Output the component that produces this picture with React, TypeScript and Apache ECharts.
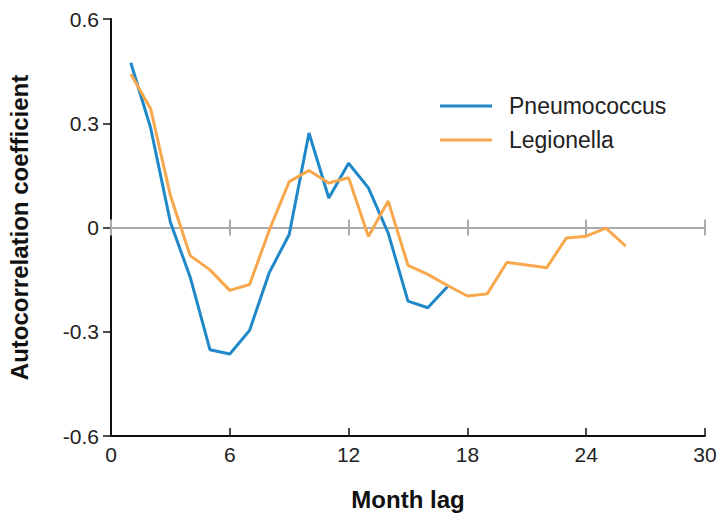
import React, { useEffect, useRef } from "react";
import * as echarts from "echarts";

const lags = [1, 2, 3, 4, 5, 6, 7, 8, 9, 10, 11, 12, 13, 14, 15, 16, 17, 18, 19, 20, 21, 22, 23, 24, 25, 26];
const pneumococcus = [0.474, 0.287, 0.015, -0.143, -0.352, -0.364, -0.296, -0.129, -0.02, 0.272, 0.085, 0.185, 0.114, -0.016, -0.212, -0.231, -0.17];
const legionella = [0.442, 0.342, 0.092, -0.081, -0.122, -0.181, -0.164, -0.007, 0.132, 0.164, 0.128, 0.143, -0.026, 0.076, -0.109, -0.135, -0.167, -0.197, -0.191, -0.1, -0.108, -0.116, -0.03, -0.025, -0.002, -0.054];
const xTicks = [0, 6, 12, 18, 24, 30];
const yTicks = [-0.6, -0.3, 0, 0.3, 0.6];

const FONT = "'Liberation Sans', Arial, Helvetica, sans-serif";

export default function App() {
  const ref = useRef<HTMLDivElement>(null);
  useEffect(() => {
    if (!ref.current) return;
    const chart = echarts.init(ref.current, null, { renderer: "svg" });
    const xMin = xTicks[0];
    const xMax = xTicks[xTicks.length - 1];
    const xInt = xTicks[1] - xTicks[0];
    const zeroAxis = (inside: boolean) => ({
      type: "value",
      min: xMin,
      max: xMax,
      interval: xInt,
      position: "bottom",
      axisLine: { onZero: true, onZeroAxisIndex: 0, lineStyle: { color: "#a9abad", width: 2 } },
      axisTick: { show: true, inside, length: 8, lineStyle: { color: "#a9abad", width: 2 } },
      axisLabel: { show: false },
      splitLine: { show: false },
    });
    chart.setOption({
      animation: false,
      backgroundColor: "#ffffff",
      textStyle: { fontFamily: FONT },
      grid: { left: 111, right: 12, top: 19, bottom: 78, containLabel: false, outerBoundsMode: "none" },
      legend: {
        orient: "vertical",
        left: 435,
        top: 89,
        icon: "rect",
        itemWidth: 52,
        itemHeight: 3,
        itemGap: 10,
        textStyle: { fontSize: 23, lineHeight: 24, color: "#222", fontFamily: FONT, padding: [0, 0, 0, 12] },
        data: ["Pneumococcus", "Legionella"],
      },
      xAxis: [
        {
          type: "value",
          min: xMin,
          max: xMax,
          interval: xInt,
          position: "bottom",
          name: "Month lag",
          nameLocation: "middle",
          nameGap: 51,
          nameTextStyle: { fontSize: 24, fontWeight: "bold", color: "#111", fontFamily: FONT },
          axisLine: { onZero: false, lineStyle: { color: "#111", width: 2 } },
          axisTick: { show: true, inside: true, length: 8, lineStyle: { color: "#111", width: 1.5 } },
          axisLabel: { fontSize: 21, color: "#222", margin: 8, fontFamily: FONT },
          splitLine: { show: false },
        },
        zeroAxis(true),
        zeroAxis(false),
      ],
      yAxis: {
        type: "value",
        min: yTicks[0],
        max: yTicks[yTicks.length - 1],
        interval: yTicks[1] - yTicks[0],
        name: "Autocorrelation coefficient",
        nameLocation: "middle",
        nameGap: 80,
        nameTextStyle: { fontSize: 24, fontWeight: "bold", color: "#111", fontFamily: FONT },
        axisLine: { onZero: false, lineStyle: { color: "#111", width: 2 } },
        axisTick: { show: true, inside: false, length: 8, lineStyle: { color: "#111", width: 1.5 } },
        axisLabel: {
          fontSize: 21,
          color: "#222",
          margin: 12,
          fontFamily: FONT,
          formatter: (v: number) => (v === 0 ? "0" : v.toFixed(1)),
        },
        splitLine: { show: false },
      },
      series: [
        {
          name: "Pneumococcus",
          type: "line",
          xAxisIndex: 0,
          symbol: "none",
          lineStyle: { color: "#1f88c9", width: 3 },
          itemStyle: { color: "#1f88c9" },
          data: pneumococcus.map((v, i) => [lags[i], v]),
          z: 3,
        },
        {
          name: "Legionella",
          type: "line",
          xAxisIndex: 0,
          symbol: "none",
          lineStyle: { color: "#f8a84c", width: 3 },
          itemStyle: { color: "#f8a84c" },
          data: legionella.map((v, i) => [lags[i], v]),
          z: 4,
        },
      ],
    });
    return () => chart.dispose();
  }, []);
  return <div ref={ref} style={{ width: 717, height: 514, position: "absolute", left: 0, top: 0 }} />;
}
